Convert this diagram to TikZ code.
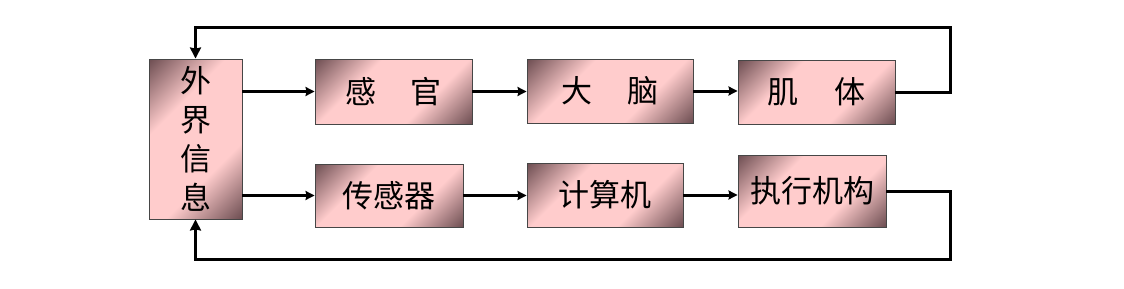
\documentclass[tikz,border=0pt]{standalone}
\usepackage{fontspec}
\newfontfamily\cjk{Noto Sans CJK SC}
\usetikzlibrary{arrows.meta}
\definecolor{dk}{RGB}{112,80,84}
\definecolor{lt}{RGB}{255,204,204}
\definecolor{bd}{RGB}{70,70,70}
\pgfdeclarehorizontalshading{pinkbox}{100bp}{color(0bp)=(dk); color(15bp)=(dk); color(36bp)=(lt); color(64bp)=(lt); color(85bp)=(dk); color(100bp)=(dk)}
\begin{document}
\begin{tikzpicture}[x=1pt,y=-1pt,
  blk/.style={draw=bd, line width=0.9pt, shading=pinkbox, shading angle=-45, inner sep=0pt,
    font=\cjk\fontsize{31}{39}\selectfont, align=center},
  arr/.style={line width=3pt, -{Stealth[length=9pt,width=9pt,inset=1pt]}},
  fb/.style={line width=3pt, -{Stealth[length=11pt,width=11pt,inset=1pt]}}]
\useasboundingbox (0,0) rectangle (1124,289);
\node[blk, minimum width=93pt, minimum height=160pt] (A) at (195.5,139) {外\\界\\信\\息};
\node[blk, minimum width=157pt, minimum height=65pt] (B) at (393.5,91.5) {感\hspace{34pt}官};
\node[blk, minimum width=166pt, minimum height=64pt] (C) at (610,91) {大\hspace{36pt}脑};
\node[blk, minimum width=157pt, minimum height=64pt] (D) at (816.5,92) {肌\hspace{36pt}体};
\node[blk, minimum width=148pt, minimum height=63pt] (E) at (389,195.5) {传感器};
\node[blk, minimum width=156pt, minimum height=64pt] (F) at (605,195) {计算机};
\node[blk, minimum width=148pt, minimum height=72pt] (G) at (812,191) {执行机构};
\coordinate (tr) at (950,27);
\coordinate (br) at (950,259);
\draw[arr] (A.east |- B) -- (B.west);
\draw[arr] (B.east) -- (B.east -| C.west);
\draw[arr] (C.east) -- (C.east -| D.west);
\draw[arr] (A.east |- E) -- (E.west);
\draw[arr] (E.east) -- (E.east -| F.west);
\draw[arr] (F.east) -- (F.east -| G.west);
\draw[fb] (D.east) -| (tr) -| (A.north);
\draw[fb] (G.east) -| (br) -| (A.south);
\end{tikzpicture}
\end{document}
